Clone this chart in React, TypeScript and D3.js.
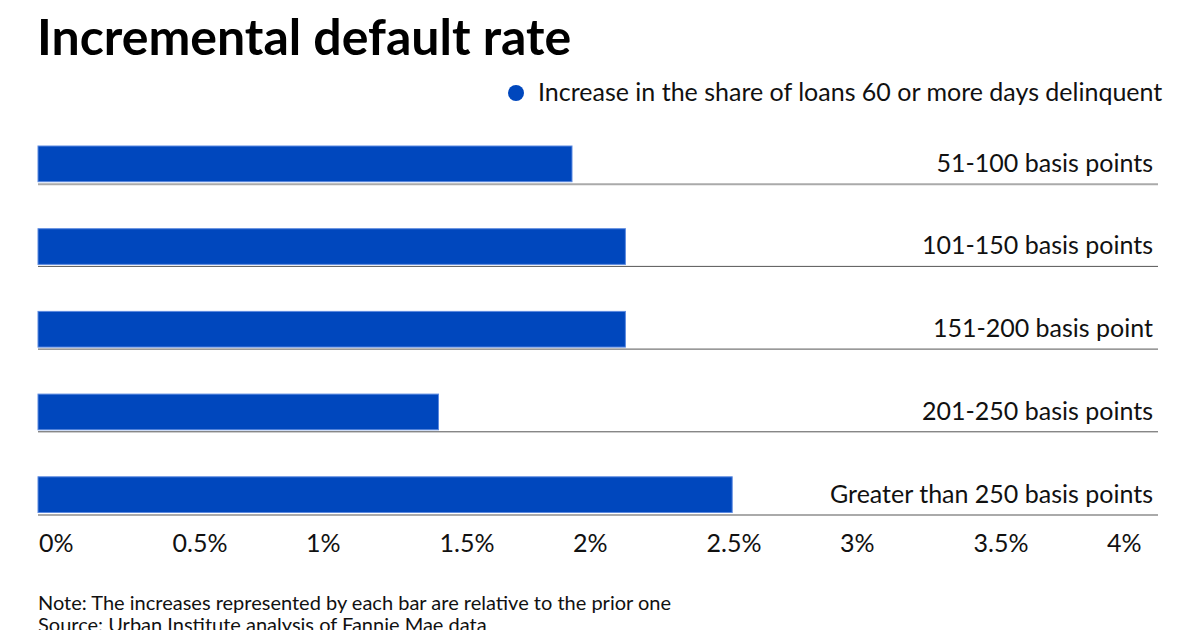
import React from "react";
import * as d3 from "d3";

const categories = [
  "51-100 basis points",
  "101-150 basis points",
  "151-200 basis point",
  "201-250 basis points",
  "Greater than 250 basis points",
];
const values = [2.0, 2.2, 2.2, 1.5, 2.6];
const ticks = [0, 0.5, 1, 1.5, 2, 2.5, 3, 3.5, 4];
const lineStyles = ["light", "dark", "dark", "dark", "light"];

const title = "Incremental default rate";
const legendLabel = "Increase in the share of loans 60 or more days delinquent";
const notes = [
  "Note: The increases represented by each bar are relative to the prior one",
  "Source: Urban Institute analysis of Fannie Mae data",
];

export default function App() {
  const W = 1200;
  const H = 630;
  const x = d3.scaleLinear().domain([0, 4]).range([38, 1106]);
  const pad = 1 - 35.7 / 82.7;
  const y = d3
    .scaleBand<string>()
    .domain(categories)
    .range([146, 146 + 82.7 * 4 + 35.7])
    .paddingInner(pad)
    .paddingOuter(0)
    .align(0);
  const bw = y.bandwidth();
  const font = "Lato, 'Noto Sans', sans-serif";
  const fmt = (t: number) => `${t}%`;

  return (
    <div style={{ position: "absolute", left: 0, top: 0, width: W, height: H, overflow: "hidden", background: "#fff" }}>
      <svg width={W} height={H} style={{ display: "block", fontFamily: font }}>
        <text x={37} y={55} fontSize={50} fontWeight={700} fill="#000">
          {title}
        </text>
        <circle cx={516} cy={93} r={8} fill="#0047bd" />
        <text x={538} y={101} fontSize={25} fill="#111">
          {legendLabel}
        </text>
        {categories.map((c, i) => {
          const y0 = y(c)!;
          const light = lineStyles[i] === "light";
          return (
            <g key={c}>
              <rect
                x={x(0)}
                y={y0}
                width={x(values[i]) - x(0)}
                height={bw}
                fill="#0047bd"
                stroke="#5d8ae0"
                strokeWidth={1}
              />
              <line
                x1={38}
                x2={1158}
                y1={y0 + bw + (light ? 2.5 : 2)}
                y2={y0 + bw + (light ? 2.5 : 2)}
                stroke={light ? "#aaaaaa" : "#555555"}
                strokeWidth={light ? 2 : 1}
              />
              <text x={1153} y={y0 + bw - 10} textAnchor="end" fontSize={25} fill="#111">
                {c}
              </text>
            </g>
          );
        })}
        {ticks.map((t) => (
          <text key={t} x={x(t) + 1} y={552} fontSize={25} fill="#111">
            {fmt(t)}
          </text>
        ))}
        {notes.map((n, i) => (
          <text key={n} x={38} y={610 + i * 22} fontSize={20} fill="#111">
            {n}
          </text>
        ))}
      </svg>
    </div>
  );
}
